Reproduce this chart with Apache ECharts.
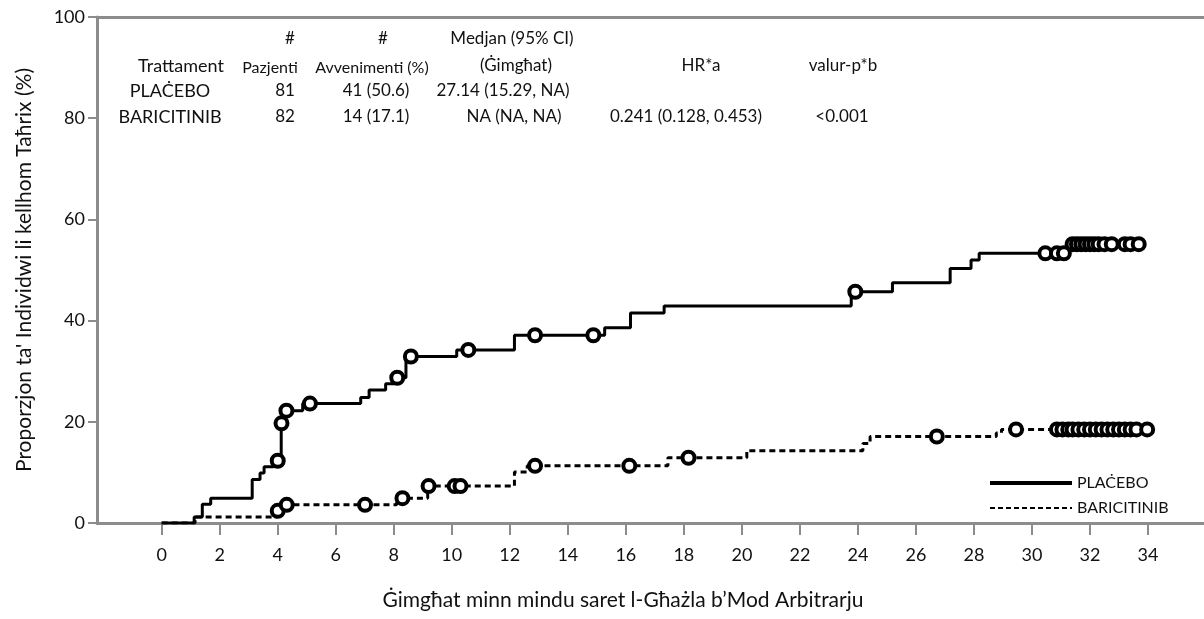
<!DOCTYPE html>
<html>
<head>
<meta charset="utf-8">
<script src="https://cdn.jsdelivr.net/npm/echarts@6/dist/echarts.min.js"></script>
<style>html,body{margin:0;padding:0;background:#fff}#c{width:1204px;height:619px}</style>
</head>
<body>
<div id="c"></div>
<script>
// ---- data ----
const xTicks = [0,2,4,6,8,10,12,14,16,18,20,22,24,26,28,30,32,34];
const yTicks = [0,20,40,60,80,100];

const placeboTimes = [0, 1.12, 1.40, 1.69, 3.12, 3.39, 3.53, 3.85, 4.12, 4.22, 4.86, 6.86, 7.15, 7.72, 8.01, 8.42, 10.17, 12.16, 15.27, 16.16, 17.32, 23.77, 25.19, 27.18, 27.90, 28.18, 31.20, 33.68];
const placeboPct   = [0, 1.2, 3.7, 4.9, 8.6, 9.9, 11.1, 12.3, 19.7, 22.2, 23.6, 24.8, 26.3, 27.5, 28.7, 32.9, 34.2, 37.1, 38.6, 41.5, 42.9, 45.7, 47.5, 50.3, 52.0, 53.3, 55.1, 55.1];
const placeboCensor = [4.0, 4.13, 4.3, 5.11, 8.12, 8.59, 10.57, 12.87, 14.88, 23.91, 30.46, 30.86, 31.1, 31.4, 31.55, 31.7, 31.85, 32.0, 32.15, 32.3, 32.5, 32.75, 33.2, 33.4, 33.68];

const bariTimes = [0, 1.15, 3.97, 4.10, 8.10, 9.17, 12.16, 12.60, 17.45, 20.17, 24.17, 24.42, 28.77, 28.95, 33.97];
const bariPct   = [0, 1.2, 2.4, 3.6, 4.9, 7.3, 10.1, 11.3, 12.9, 14.3, 15.7, 17.1, 17.8, 18.5, 18.5];
const bariCensor = [4.0, 4.31, 7.01, 8.3, 9.2, 10.1, 10.3, 12.87, 16.12, 18.16, 26.72, 29.45, 30.86, 31.05, 31.25, 31.4, 31.6, 31.8, 32.0, 32.2, 32.4, 32.6, 32.8, 33.0, 33.2, 33.4, 33.6, 33.97];

const seriesNames = ['PLAĊEBO', 'BARICITINIB'];
const tableHeader1 = ['#', '#', 'Medjan (95% CI)'];
const tableHeader2 = ['Trattament', 'Pazjenti', 'Avvenimenti (%)', '(Ġimgħat)', 'HR*a', 'valur-p*b'];
const rowPlacebo = ['PLAĊEBO', '81', '41 (50.6)', '27.14 (15.29, NA)'];
const rowBari = ['BARICITINIB', '82', '14 (17.1)', 'NA (NA, NA)', '0.241 (0.128, 0.453)', '<0.001'];
const xTitle = 'Ġimgħat minn mindu saret l-Għażla b’Mod Arbitrarju';
const yTitle = 'Proporzjon ta\' Individwi li kellhom Taħrix (%)';

// ---- helpers ----
function zip(a, b) { return a.map((v, i) => [v, b[i]]); }
function valueAt(times, pct, t) {
  let v = pct[0];
  for (let i = 0; i < times.length; i++) { if (times[i] <= t) v = pct[i]; }
  return v;
}
function censorPts(times, pct, cs) { return cs.map(t => [t, valueAt(times, pct, t)]); }

const FONT = 'Lato, "Noto Sans", sans-serif';
const AX = '#8c8c8c';
const TXT = '#111';

function txt(str, x, y, size, align) {
  return { type: 'text', x: x, y: y, style: { text: str, font: size + 'px ' + FONT, fill: TXT, align: align || 'center', verticalAlign: 'middle' } };
}
const g = [];
g.push(txt(tableHeader1[0], 290, 39, 17));
g.push(txt(tableHeader1[1], 383, 39, 17));
g.push(txt(tableHeader1[2], 512, 39, 17));
g.push(txt(tableHeader2[0], 181, 66, 18));
g.push(txt(tableHeader2[1], 270, 68, 16));
g.push(txt(tableHeader2[2], 372, 68, 16));
g.push(txt(tableHeader2[3], 516, 66, 17));
g.push(txt(tableHeader2[4], 701, 66, 17));
g.push(txt(tableHeader2[5], 843, 66, 17));
[rowPlacebo, rowBari].forEach((row, r) => {
  const y = r === 0 ? 91 : 117;
  g.push(txt(row[0], 170, y, 18));
  g.push(txt(row[1], 285, y, 17));
  g.push(txt(row[2], 376, y, 17));
  g.push(txt(row[3], r === 0 ? 503 : 514, y, 17));
  if (row[4]) g.push(txt(row[4], 686, y, 17));
  if (row[5]) g.push(txt(row[5], 842, y, 17));
});
g.push(txt(xTitle, 623, 600, 21));

const chart = echarts.init(document.getElementById('c'), null, { renderer: 'canvas' });
chart.setOption({
  animation: false,
  backgroundColor: '#fff',
  textStyle: { fontFamily: FONT },
  grid: { left: 97, right: 0, top: 17, bottom: 96, containLabel: false },
  xAxis: [{
    type: 'value', min: -2.23, max: 35.93, position: 'bottom',
    axisLine: { show: true, onZero: false, lineStyle: { color: AX, width: 3 } },
    axisTick: { show: true, inside: false, length: 12, customValues: xTicks, lineStyle: { color: AX, width: 2 } },
    axisLabel: { show: true, customValues: xTicks, margin: 23, fontSize: 18, color: TXT, fontFamily: FONT },
    splitLine: { show: false }
  }, {
    type: 'value', min: -2.23, max: 35.93, position: 'top',
    axisLine: { show: true, onZero: false, lineStyle: { color: AX, width: 3 } },
    axisTick: { show: false }, axisLabel: { show: false }, splitLine: { show: false }
  }],
  yAxis: {
    type: 'value', min: 0, max: 100, interval: 20,
    name: yTitle, nameLocation: 'middle', nameGap: 62, nameRotate: 90,
    nameTextStyle: { fontSize: 21, color: TXT, fontFamily: FONT },
    axisLine: { show: true, onZero: false, lineStyle: { color: AX, width: 3 } },
    axisTick: { show: true, length: 9, lineStyle: { color: AX, width: 2 } },
    axisLabel: { fontSize: 18, color: TXT, margin: 12, fontFamily: FONT },
    splitLine: { show: false }
  },
  legend: {
    data: [
      { name: seriesNames[0], lineStyle: { color: '#000', width: 4, type: 'solid' } },
      { name: seriesNames[1], lineStyle: { color: '#000', width: 2, type: [5, 3] } }
    ],
    orient: 'vertical', left: 983, top: 470,
    itemWidth: 82, itemHeight: 16, itemGap: 9,
    itemStyle: { color: 'transparent', borderWidth: 0, opacity: 0 },
    textStyle: { fontSize: 16, color: TXT, fontFamily: FONT }
  },
  graphic: g,
  series: [
    { name: seriesNames[0], type: 'line', step: 'end', symbol: 'none', data: zip(placeboTimes, placeboPct),
      lineStyle: { color: '#000', width: 3, type: 'solid' }, itemStyle: { color: '#000' }, z: 3 },
    { name: seriesNames[1], type: 'line', step: 'end', symbol: 'none', data: zip(bariTimes, bariPct),
      lineStyle: { color: '#000', width: 3, type: [6, 4] }, itemStyle: { color: '#000' }, z: 3 },
    { name: 'cens1', type: 'scatter', symbol: 'circle', symbolSize: 12, data: censorPts(placeboTimes, placeboPct, placeboCensor),
      itemStyle: { color: '#fff', borderColor: '#000', borderWidth: 4, opacity: 1 }, z: 4 },
    { name: 'cens2', type: 'scatter', symbol: 'circle', symbolSize: 12, data: censorPts(bariTimes, bariPct, bariCensor),
      itemStyle: { color: '#fff', borderColor: '#000', borderWidth: 4, opacity: 1 }, z: 4 }
  ]
});
</script>
</body>
</html>
